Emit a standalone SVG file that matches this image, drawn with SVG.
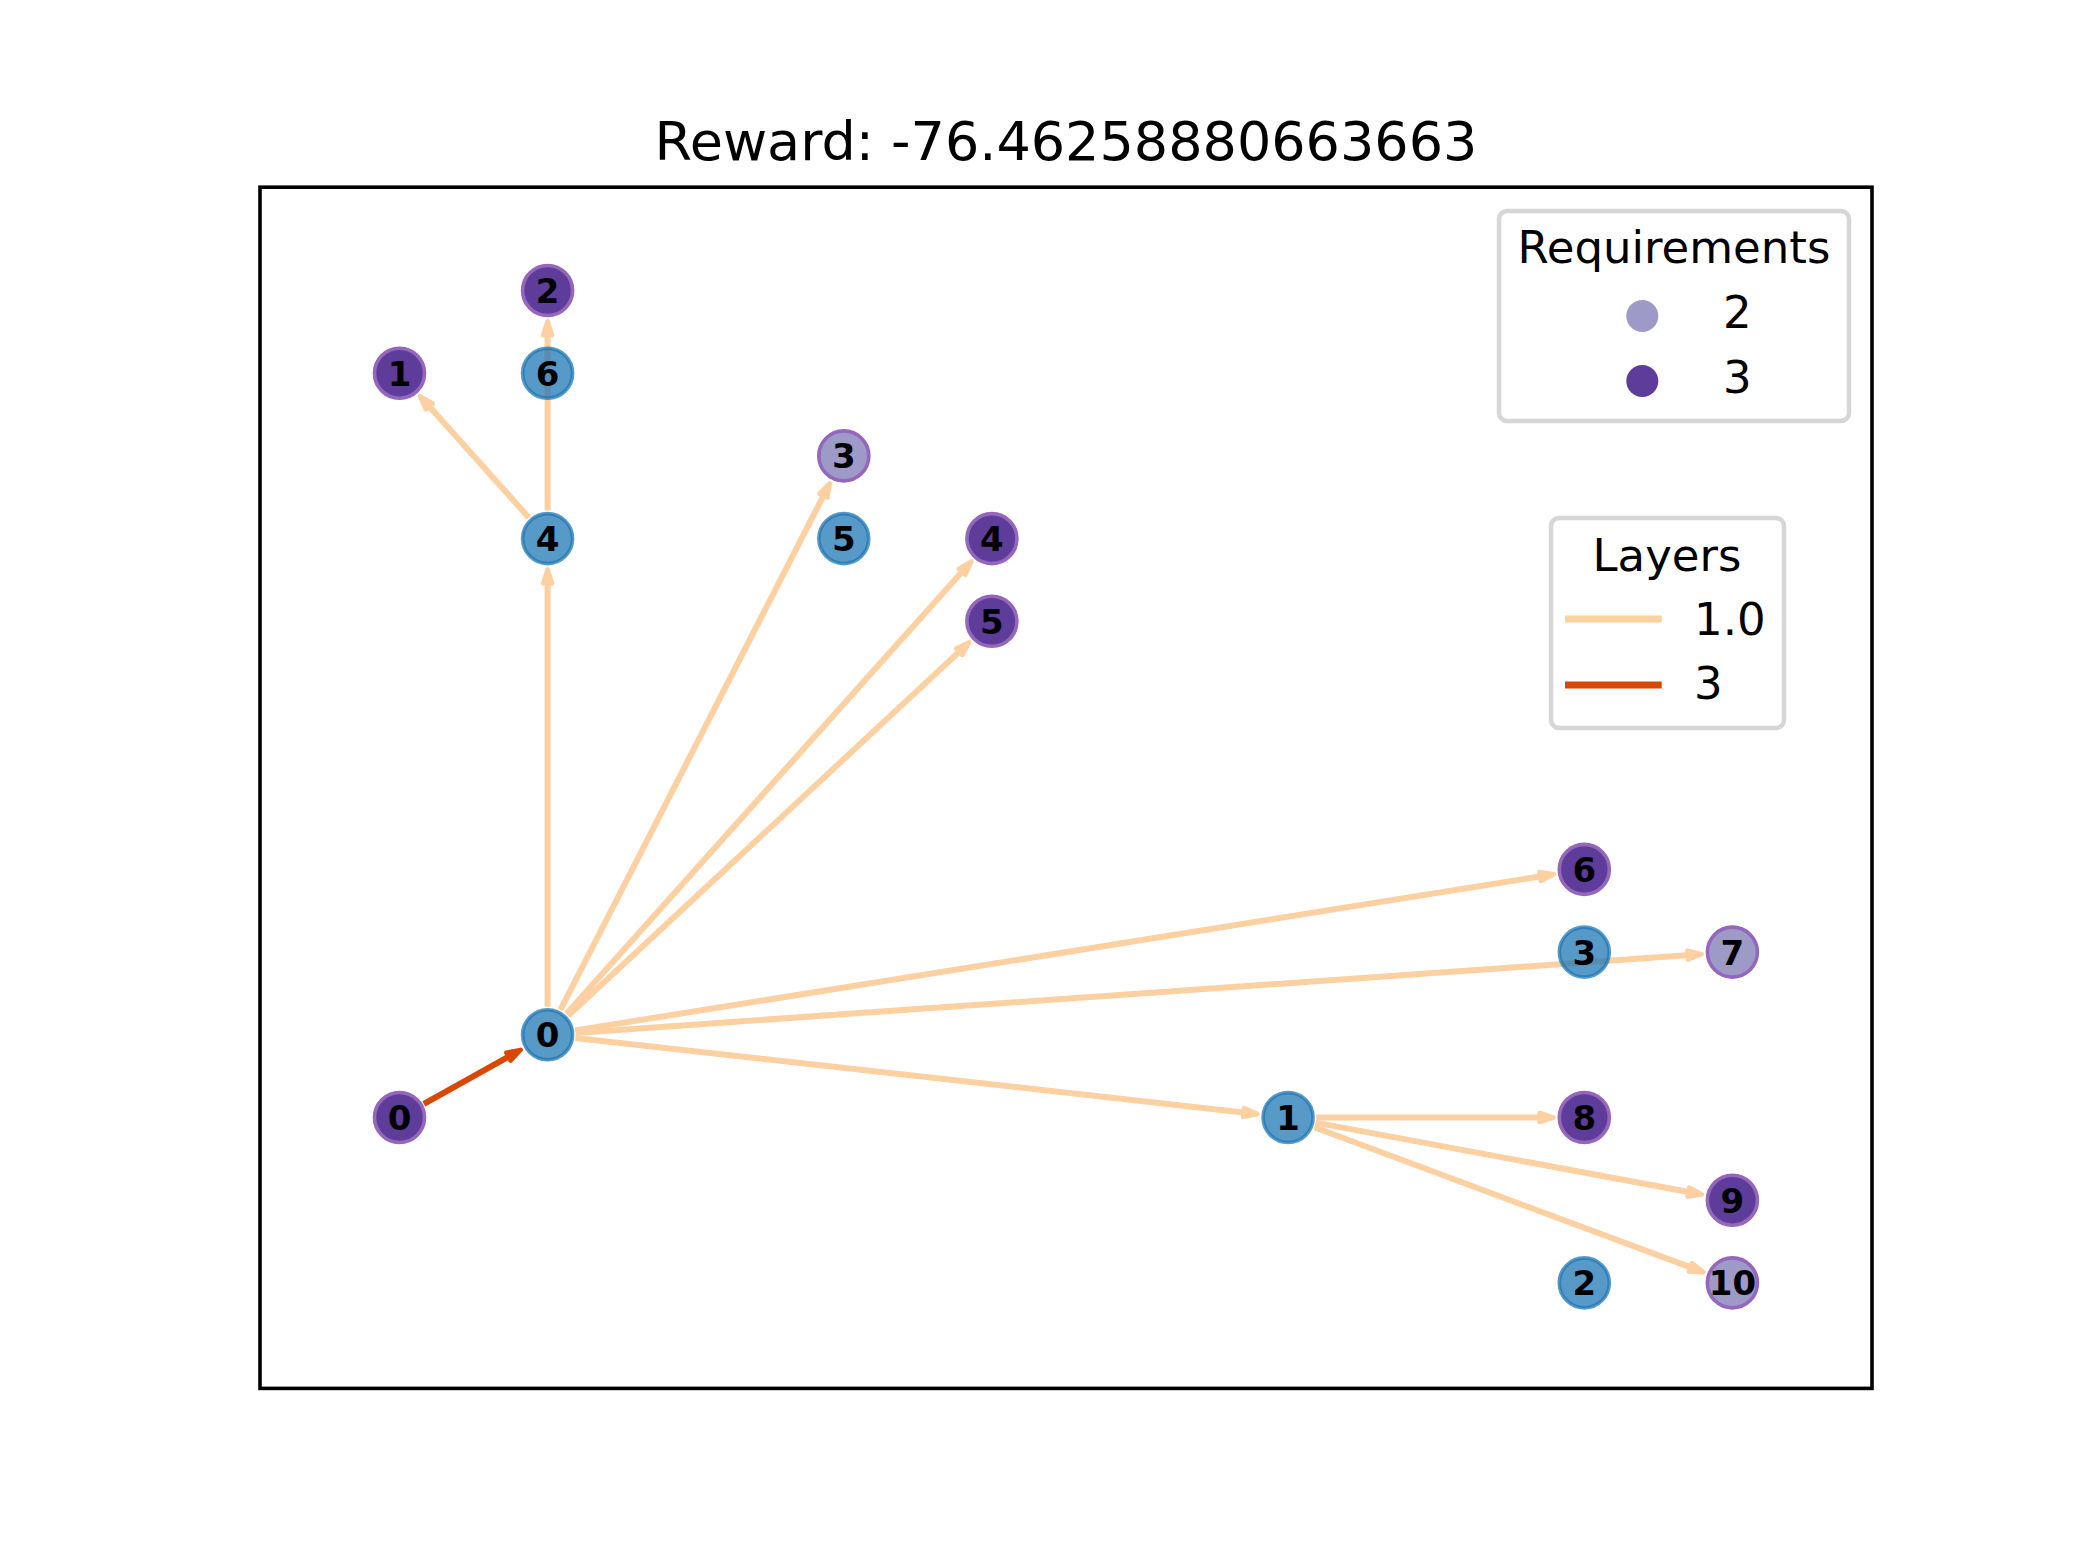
<svg xmlns="http://www.w3.org/2000/svg" width="2080" height="1560" viewBox="0 0 2080 1560">
<defs>
<style>
.e1{stroke:#fdd0a2;stroke-width:6;fill:none;marker-end:url(#ah1)}
.e3{stroke:#d94801;stroke-width:6;fill:none;marker-end:url(#ah3)}
.nb circle{fill:#1f77b4;fill-opacity:0.75;stroke:#1f77b4;stroke-opacity:0.75;stroke-width:3.6}
.nr3 circle{fill:#5e3c99;stroke:#9467bd;stroke-width:3.6}
.nr2 circle{fill:#9e9ac8;stroke:#9467bd;stroke-width:3.6}
.lbl{font-family:"DejaVu Sans","Liberation Sans",sans-serif;font-weight:bold;font-size:34px;fill:#000;text-anchor:middle}
.txt{font-family:"DejaVu Sans","Liberation Sans",sans-serif;fill:#000}
.leg{fill:#fff;fill-opacity:0.8;stroke:#d6d6d6;stroke-width:4.5}
</style>
<marker id="ah1" markerUnits="userSpaceOnUse" orient="auto" refX="-12.25" refY="0" markerWidth="40" markerHeight="40" viewBox="-20 -20 40 40" overflow="visible">
<path d="M-14,-4.5 L0,0 L-14,4.5 Z" fill="#fdd0a2" stroke="#fdd0a2" stroke-width="4.5" stroke-linejoin="round"/>
</marker>
<marker id="ah3" markerUnits="userSpaceOnUse" orient="auto" refX="-12.25" refY="0" markerWidth="40" markerHeight="40" viewBox="-20 -20 40 40" overflow="visible">
<path d="M-14,-4.5 L0,0 L-14,4.5 Z" fill="#d94801" stroke="#d94801" stroke-width="4.5" stroke-linejoin="round"/>
</marker>
</defs>
<rect x="0" y="0" width="2080" height="1560" fill="#fff"/>
<text class="txt" x="1066" y="160" font-size="54" text-anchor="middle">Reward: -76.46258880663663</text>
<rect x="260" y="187.2" width="1612" height="1201.2" fill="none" stroke="#000" stroke-width="3.6"/>

<g id="connectors">
<line class="e3" x1="423.9" y1="1103.8" x2="510.05" y2="1055.8"/>
<line class="e1" x1="547.6" y1="1006.8" x2="547.6" y2="581.6"/>
<line class="e1" x1="528.9" y1="517.7" x2="428.2" y2="405.2"/>
<line class="e1" x1="547.6" y1="510.6" x2="547.6" y2="333.5"/>
<line class="e1" x1="560.4" y1="1009.9" x2="824.2" y2="494.2"/>
<line class="e1" x1="566.3" y1="1013.9" x2="963.2" y2="570.6"/>
<line class="e1" x1="568.1" y1="1015.7" x2="960.4" y2="650.6"/>
<line class="e1" x1="575.3" y1="1030.4" x2="1541.8" y2="876.2"/>
<line class="e1" x1="575.5" y1="1032.9" x2="1689.5" y2="955.1"/>
<line class="e1" x1="575.4" y1="1037.9" x2="1245.4" y2="1112.7"/>
<line class="e1" x1="1316.1" y1="1117.5" x2="1541.3" y2="1117.5"/>
<line class="e1" x1="1315.6" y1="1122.6" x2="1690.1" y2="1192.3"/>
<line class="e1" x1="1314.3" y1="1127.3" x2="1692.1" y2="1267.9"/>
</g>

<g id="b0" class="nb"><circle cx="547.6" cy="1034.8" r="25"/><text class="lbl" x="547.6" y="1047.2">0</text></g>
<g id="b1" class="nb"><circle cx="1288.1" cy="1117.5" r="25"/><text class="lbl" x="1288.1" y="1129.9">1</text></g>
<g id="b2" class="nb"><circle cx="1584.3" cy="1282.9" r="25"/><text class="lbl" x="1584.3" y="1295.3">2</text></g>
<g id="b3" class="nb"><circle cx="1584.3" cy="952.1" r="25"/><text class="lbl" x="1584.3" y="964.5">3</text></g>
<g id="b4" class="nb"><circle cx="547.6" cy="538.6" r="25"/><text class="lbl" x="547.6" y="551">4</text></g>
<g id="b5" class="nb"><circle cx="843.8" cy="538.6" r="25"/><text class="lbl" x="843.8" y="551">5</text></g>
<g id="b6" class="nb"><circle cx="547.6" cy="373.2" r="25"/><text class="lbl" x="547.6" y="385.6">6</text></g>

<g id="r0" class="nr3"><circle cx="399.5" cy="1117.5" r="25"/><text class="lbl" x="399.5" y="1129.9">0</text></g>
<g id="r1" class="nr3"><circle cx="399.5" cy="373.2" r="25"/><text class="lbl" x="399.5" y="385.6">1</text></g>
<g id="r2" class="nr3"><circle cx="547.6" cy="290.5" r="25"/><text class="lbl" x="547.6" y="302.9">2</text></g>
<g id="r3" class="nr2"><circle cx="843.8" cy="455.9" r="25"/><text class="lbl" x="843.8" y="468.3">3</text></g>
<g id="r4" class="nr3"><circle cx="991.9" cy="538.6" r="25"/><text class="lbl" x="991.9" y="551">4</text></g>
<g id="r5" class="nr3"><circle cx="991.9" cy="621.3" r="25"/><text class="lbl" x="991.9" y="633.7">5</text></g>
<g id="r6" class="nr3"><circle cx="1584.3" cy="869.4" r="25"/><text class="lbl" x="1584.3" y="881.8">6</text></g>
<g id="r7" class="nr2"><circle cx="1732.4" cy="952.1" r="25"/><text class="lbl" x="1732.4" y="964.5">7</text></g>
<g id="r8" class="nr3"><circle cx="1584.3" cy="1117.5" r="25"/><text class="lbl" x="1584.3" y="1129.9">8</text></g>
<g id="r9" class="nr3"><circle cx="1732.4" cy="1200.2" r="25"/><text class="lbl" x="1732.4" y="1212.6">9</text></g>
<g id="r10" class="nr2"><circle cx="1732.4" cy="1282.9" r="25"/><text class="lbl" x="1732.4" y="1295.3">10</text></g>

<g id="legend-requirements">
<rect class="leg" x="1499" y="211" width="350" height="210" rx="8"/>
<text class="txt" x="1674" y="262.7" font-size="45" text-anchor="middle">Requirements</text>
<circle cx="1642.3" cy="316" r="16" fill="#9e9ac8"/>
<text class="txt" x="1723" y="327.7" font-size="45">2</text>
<circle cx="1642.3" cy="381" r="16" fill="#5e3c99"/>
<text class="txt" x="1723" y="392.7" font-size="45">3</text>
</g>

<g id="legend-layers">
<rect class="leg" x="1551" y="518" width="233" height="210" rx="8"/>
<text class="txt" x="1667" y="570.7" font-size="45" text-anchor="middle">Layers</text>
<line x1="1565" y1="619" x2="1661.7" y2="619" stroke="#fdd0a2" stroke-width="6.8"/>
<text class="txt" x="1694" y="635" font-size="45">1.0</text>
<line x1="1565" y1="685" x2="1661.7" y2="685" stroke="#d94801" stroke-width="6.8"/>
<text class="txt" x="1694" y="699.3" font-size="45">3</text>
</g>
</svg>
